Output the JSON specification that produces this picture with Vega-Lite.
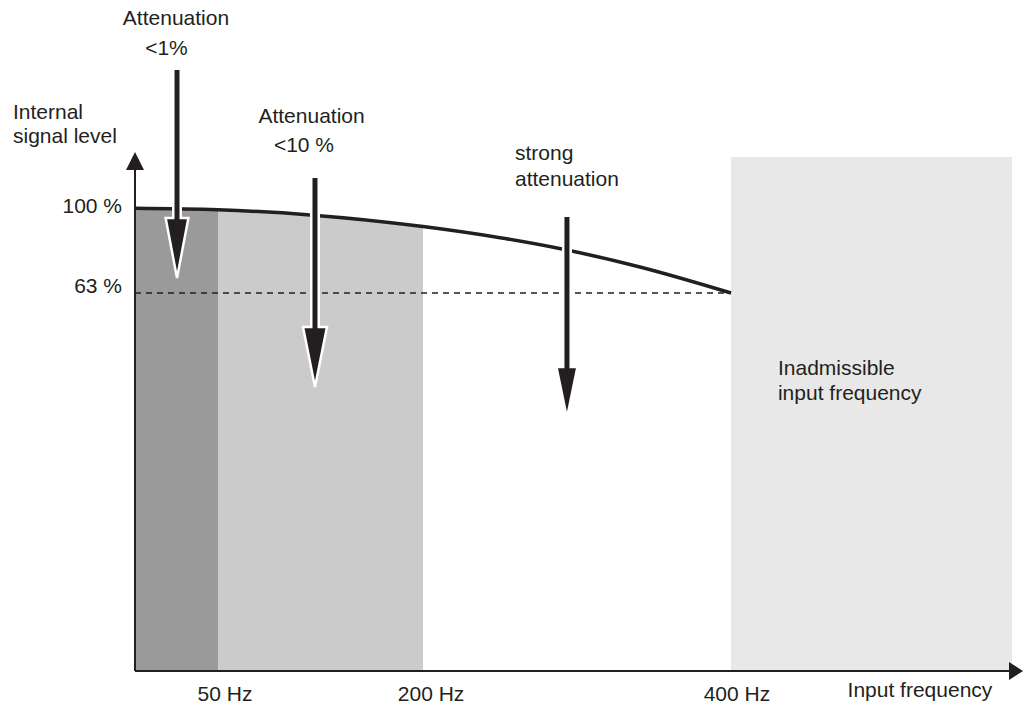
{
  "$schema": "https://vega.github.io/schema/vega-lite/v6.json",
  "width": 1024,
  "height": 705,
  "autosize": {"type": "none"},
  "padding": 0,
  "background": "white",
  "config": {"view": {"stroke": null}, "text": {"font": "Liberation Sans"}},
  "resolve": {"scale": {"shape": "independent"}},
  "datasets": {
    "zone": [{"x": 400, "x2": 588.6, "y": -102.1, "y2": 122.4}],
    "areas": [
      {"region": "below 50 Hz", "x": 0, "y": 100},
      {"region": "below 50 Hz", "x": 55.7, "y": 99.34},
      {"region": "50-200 Hz", "x": 55.7, "y": 99.34},
      {"region": "50-200 Hz", "x": 117.4, "y": 97.12},
      {"region": "50-200 Hz", "x": 193.3, "y": 92.05}
    ],
    "curve": [
      {"x": 0, "y": 100}, {"x": 55.7, "y": 99.34}, {"x": 117.4, "y": 97.12},
      {"x": 193.3, "y": 92.05}, {"x": 245.0, "y": 87.16}, {"x": 286.6, "y": 82.22},
      {"x": 338.9, "y": 74.36}, {"x": 400, "y": 63}
    ],
    "level63": [{"x": 0, "x2": 400, "y": 63}],
    "axes": [
      {"axis": "x", "x": 0, "y": -102.1, "x2": 586.6, "y2": -102.1},
      {"axis": "y", "x": 0, "y": -102.1, "x2": 0, "y2": 116.7}
    ],
    "axisHeads": [
      {"id": "up", "x": 0, "y": 124.6},
      {"id": "right", "x": 596.0, "y": -102.1}
    ],
    "arrows": [
      {"id": "a1", "x": 28.2, "y": 160.4, "y2": 94.0},
      {"id": "a2", "x": 120.8, "y": 113.2, "y2": 46.4},
      {"id": "a3", "x": 289.9, "y": 96.2, "y2": 28.9}
    ],
    "arrowHeads": [
      {"id": "a1", "x": 28.2, "y": 69.55},
      {"id": "a2", "x": 120.8, "y": 21.9},
      {"id": "a3", "x": 289.9, "y": 8.4}
    ],
    "textsC": [
      {"t": "Attenuation", "x": 27.5, "y": 180.1},
      {"t": "<1%", "x": 21.1, "y": 167.0},
      {"t": "Attenuation", "x": 118.5, "y": 137.3},
      {"t": "<10 %", "x": 113.4, "y": 124.6}
    ],
    "textsL": [
      {"t": "Internal", "x": -81.9, "y": 139.0},
      {"t": "signal level", "x": -81.9, "y": 128.5},
      {"t": "strong", "x": 255.0, "y": 121.1},
      {"t": "attenuation", "x": 255.0, "y": 109.8},
      {"t": "Inadmissible", "x": 431.5, "y": 27.2},
      {"t": "input frequency", "x": 431.5, "y": 16.3}
    ],
    "textsR": [
      {"t": "100 %", "x": -8.7, "y": 97.9},
      {"t": "63 %", "x": -8.7, "y": 63.0}
    ],
    "textsB": [
      {"t": "50 Hz", "x": 60.4, "y": -115.2},
      {"t": "200 Hz", "x": 198.7, "y": -115.2},
      {"t": "400 Hz", "x": 404.0, "y": -115.2},
      {"t": "Input frequency", "x": 526.8, "y": -113.5}
    ]
  },
  "encoding": {
    "x": {"field": "x", "type": "quantitative", "scale": {"domain": [-90.604, 596.644], "nice": false, "zero": false}, "axis": null},
    "y": {"field": "y", "type": "quantitative", "stack": null, "scale": {"domain": [-117.0, 191.0], "nice": false, "zero": false}, "axis": null}
  },
  "layer": [
    {
      "data": {"name": "zone"},
      "mark": {"type": "rect", "color": "#e8e8e8"},
      "encoding": {"x2": {"field": "x2"}, "y2": {"field": "y2"}}
    },
    {
      "data": {"name": "areas"},
      "mark": {"type": "area", "interpolate": "monotone", "opacity": 1},
      "encoding": {
        "y2": {"datum": -102.1},
        "color": {"field": "region", "type": "nominal", "scale": {"domain": ["below 50 Hz", "50-200 Hz"], "range": ["#9a9a9a", "#cbcbcb"]}, "legend": null}
      }
    },
    {
      "data": {"name": "level63"},
      "mark": {"type": "rule", "color": "#231f20", "strokeWidth": 1.5, "strokeDash": [6, 5]},
      "encoding": {"x2": {"field": "x2"}}
    },
    {
      "data": {"name": "curve"},
      "mark": {"type": "line", "interpolate": "monotone", "color": "#231f20", "strokeWidth": 3.5}
    },
    {
      "data": {"name": "axes"},
      "mark": {"type": "rule", "color": "#231f20", "strokeWidth": 2},
      "encoding": {"x2": {"field": "x2"}, "y2": {"field": "y2"}}
    },
    {
      "data": {"name": "axisHeads"},
      "mark": {"type": "point", "filled": true, "size": 1296, "opacity": 1, "color": "#231f20"},
      "encoding": {
        "shape": {"field": "id", "type": "nominal", "scale": {"domain": ["up", "right"], "range": ["M-0.5,1L0.5,1L0,0Z", "M-0.78,-0.5L-0.78,0.5L0,0Z"]}, "legend": null}
      }
    },
    {
      "data": {"name": "arrows"},
      "mark": {"type": "rule", "color": "white", "strokeWidth": 10},
      "encoding": {"y2": {"field": "y2"}}
    },
    {
      "data": {"name": "arrowHeads"},
      "mark": {"type": "point", "filled": true, "size": 14400, "opacity": 1, "fill": "#231f20", "stroke": "white", "strokeWidth": 2.5},
      "encoding": {
        "shape": {"field": "id", "type": "nominal", "scale": {"domain": ["a1", "a2", "a3"], "range": ["M-0.19,-1L0.19,-1L0,0Z", "M-0.2,-1L0.2,-1L0,0Z", "M-0.175,-0.85L0.175,-0.85L0,0Z"]}, "legend": null}
      }
    },
    {
      "data": {"name": "arrows"},
      "mark": {"type": "rule", "color": "#231f20", "strokeWidth": 5},
      "encoding": {"y2": {"field": "y2"}}
    },
    {
      "data": {"name": "textsC"},
      "mark": {"type": "text", "align": "center", "baseline": "alphabetic", "fontSize": 21, "color": "#231f20"},
      "encoding": {"text": {"field": "t"}}
    },
    {
      "data": {"name": "textsL"},
      "mark": {"type": "text", "align": "left", "baseline": "alphabetic", "fontSize": 21, "color": "#231f20"},
      "encoding": {"text": {"field": "t"}}
    },
    {
      "data": {"name": "textsR"},
      "mark": {"type": "text", "align": "right", "baseline": "alphabetic", "fontSize": 21, "color": "#231f20"},
      "encoding": {"text": {"field": "t"}}
    },
    {
      "data": {"name": "textsB"},
      "mark": {"type": "text", "align": "center", "baseline": "alphabetic", "fontSize": 21, "color": "#231f20"},
      "encoding": {"text": {"field": "t"}}
    }
  ]
}
